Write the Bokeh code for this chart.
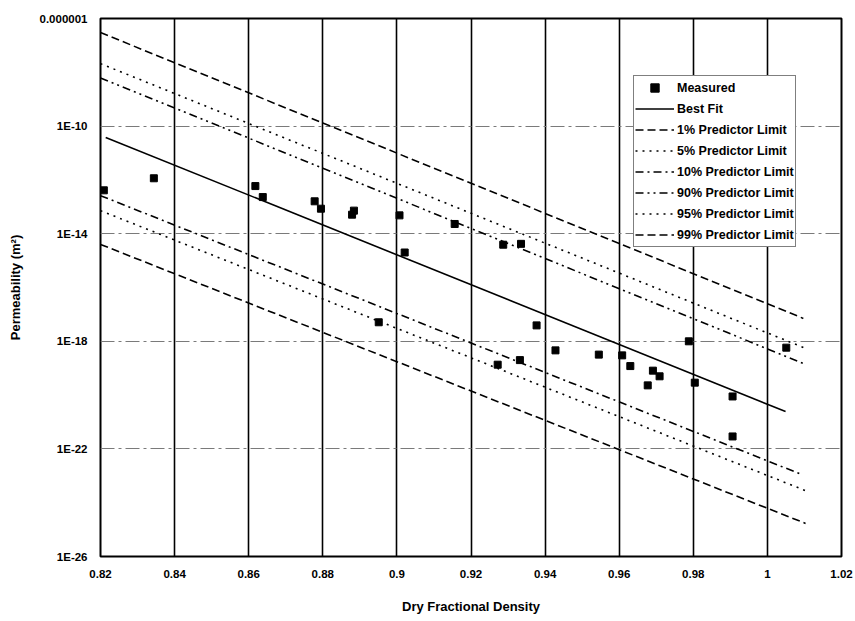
from bokeh.plotting import figure
from bokeh.models import Legend, LegendItem, FixedTicker, CustomJSTickFormatter
from bokeh.embed import file_html
from bokeh.resources import INLINE

# Measured permeability against dry fractional density
density = [0.8209, 0.8344, 0.8618, 0.8638, 0.8778, 0.8795, 0.8884, 0.8879,
           0.9007, 0.9156, 0.9021, 0.8951, 0.9287, 0.9335, 0.9377, 0.9272,
           0.9332, 0.9428, 0.9545, 0.9608, 0.9630, 0.9691, 0.9709, 0.9677,
           0.9788, 0.9804, 0.9906, 0.9906, 1.0051]
permeability = [4.1e-13, 1.15e-12, 5.9e-13, 2.3e-13, 1.6e-13, 8.5e-14, 7.2e-14, 5.1e-14,
                 4.8e-14, 2.3e-14, 2.0e-15, 5.1e-18, 3.9e-15, 4.2e-15, 3.9e-18, 1.35e-19,
                 2.0e-19, 4.6e-19, 3.2e-19, 3.0e-19, 1.2e-19, 8.1e-20, 5.0e-20, 2.3e-20,
                 1.0e-18, 2.9e-20, 8.9e-21, 2.9e-22, 5.8e-19]

# Regression line and predictor limits (end points, straight on the log axis)
fit_x = [0.8214, 1.0049]
fit_k = [3.8e-11, 2.45e-21]
lim01_x = [0.82, 1.0103]
lim01_k = [4.0e-15, 1.7e-25]
lim05_x = [0.82, 1.0103]
lim05_k = [7.2e-14, 2.8e-24]
lim10_x = [0.82, 1.0087]
lim10_k = [2.6e-13, 1.2e-23]
lim90_x = [0.82, 1.0097]
lim90_k = [6.2e-9, 1.5e-19]
lim95_x = [0.82, 1.0097]
lim95_k = [2.1e-8, 5.9e-19]
lim99_x = [0.82, 1.0097]
lim99_k = [3.0e-7, 7.1e-18]

x_ticks = [0.82, 0.84, 0.86, 0.88, 0.90, 0.92, 0.94, 0.96, 0.98, 1.00, 1.02]
y_ticks = [1e-26, 1e-22, 1e-18, 1e-14, 1e-10, 1e-6]

FONT = "Liberation Sans"

p = figure(width=855, height=621, y_axis_type="log",
           x_range=(0.82, 1.02), y_range=(1e-26, 1e-6),
           output_backend="svg", toolbar_location=None, title=None,
           min_border_left=100, min_border_right=14,
           min_border_top=18, min_border_bottom=65)
p.background_fill_color = "white"
p.border_fill_color = "white"
p.outline_line_color = "black"
p.outline_line_width = 2

# axes
p.xaxis.ticker = FixedTicker(ticks=x_ticks)
p.yaxis.ticker = FixedTicker(ticks=y_ticks)
p.xaxis.formatter = CustomJSTickFormatter(
    code="return parseFloat(tick.toFixed(2)).toString();")
p.yaxis.formatter = CustomJSTickFormatter(
    code="const e = Math.round(Math.log10(tick)); return e == -6 ? '0.000001' : '1E' + e;")
for ax in (p.xaxis, p.yaxis):
    ax.axis_line_color = None
    ax.major_tick_line_color = None
    ax.minor_tick_line_color = None
    ax.major_tick_out = 0
    ax.major_tick_in = 0
    ax.minor_tick_out = 0
    ax.minor_tick_in = 0
    ax.major_label_text_font = FONT
    ax.major_label_text_font_style = "bold"
    ax.major_label_text_font_size = "11.5px"
    ax.major_label_text_color = "black"
    ax.axis_label_text_font = FONT
    ax.axis_label_text_font_style = "bold"
    ax.axis_label_text_font_size = "13px"
    ax.axis_label_text_color = "black"
    ax.major_label_standoff = 13
p.xaxis.axis_label = "Dry Fractional Density"
p.xaxis.axis_label_standoff = 18
p.yaxis.axis_label = "Permeability (m²)"
p.yaxis.axis_label_standoff = 14

# grid
p.xgrid.ticker = FixedTicker(ticks=x_ticks)
p.xgrid.grid_line_color = "black"
p.xgrid.grid_line_width = 1.6
p.ygrid.ticker = FixedTicker(ticks=y_ticks)
p.ygrid.grid_line_color = "#7a7a7a"
p.ygrid.grid_line_width = 1.2
p.ygrid.grid_line_dash = "14 4 3 4"

# data and lines
pts = p.scatter(density, permeability, marker="square", size=7,
                fill_color="black", line_color="black")
fit = p.line(fit_x, fit_k, line_color="black", line_width=1.6)
l01 = p.line(lim01_x, lim01_k, line_color="black", line_width=1.6, line_dash="8 4")
l05 = p.line(lim05_x, lim05_k, line_color="black", line_width=1.6, line_dash="2 5")
l10 = p.line(lim10_x, lim10_k, line_color="black", line_width=1.6, line_dash="8 4 2 4")
l90 = p.line(lim90_x, lim90_k, line_color="black", line_width=1.6, line_dash="8 4 2 4 2 4")
l95 = p.line(lim95_x, lim95_k, line_color="black", line_width=1.6, line_dash="2 5")
l99 = p.line(lim99_x, lim99_k, line_color="black", line_width=1.6, line_dash="8 4")

legend = Legend(items=[
    LegendItem(label="Measured", renderers=[pts]),
    LegendItem(label="Best Fit", renderers=[fit]),
    LegendItem(label="1% Predictor Limit", renderers=[l01]),
    LegendItem(label="5% Predictor Limit", renderers=[l05]),
    LegendItem(label="10% Predictor Limit", renderers=[l10]),
    LegendItem(label="90% Predictor Limit", renderers=[l90]),
    LegendItem(label="95% Predictor Limit", renderers=[l95]),
    LegendItem(label="99% Predictor Limit", renderers=[l99]),
], location=(533, 309))
legend.margin = 0
legend.padding = 1
legend.spacing = 0
legend.glyph_width = 39
legend.glyph_height = 21
legend.label_height = 21
legend.label_standoff = 3
legend.label_text_font = FONT
legend.label_text_font_style = "bold"
legend.label_text_font_size = "12.5px"
legend.label_text_color = "black"
legend.border_line_color = "black"
legend.border_line_width = 1
legend.background_fill_color = "white"
legend.background_fill_alpha = 1.0
p.add_layout(legend)

open("out.html", "w").write(file_html(p, INLINE))
